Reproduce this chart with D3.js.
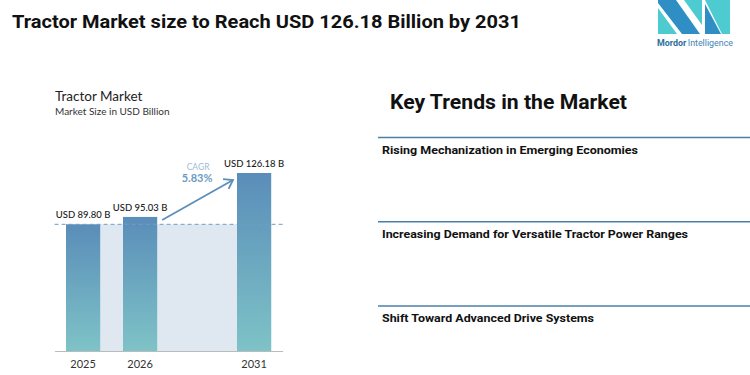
<!DOCTYPE html>
<html>
<head>
<meta charset="utf-8">
<script src="https://cdn.jsdelivr.net/npm/d3@7"></script>
<style>
  html, body { margin: 0; padding: 0; background: #fff; }
  svg { display: block; font-family: Lato, "Open Sans", sans-serif; }
</style>
</head>
<body>
<svg id="chart" width="750" height="375"></svg>
<script>
// data
const years = ["2025", "2026", "2031"];
const values = [89.80, 95.03, 126.18];
const valueLabels = ["USD 89.80 B", "USD 95.03 B", "USD 126.18 B"];
const slots = ["2025", "2026", "gap", "2031"];   // empty slot between 2026 and 2031
const cagr = "5.83%";
const trends = [
    "Rising Mechanization in Emerging Economies",
    "Increasing Demand for Versatile Tractor Power Ranges",
    "Shift Toward Advanced Drive Systems"
];
const trendWidths = [256, 306, 212];

const svg = d3.select("#chart");

// header
svg.append("text")
    .attr("x", 12).attr("y", 28)
    .attr("font-family", "Roboto, sans-serif")
    .attr("font-weight", 700)
    .attr("font-size", 19)
    .attr("textLength", 509)
    .attr("lengthAdjust", "spacingAndGlyphs")
    .attr("fill", "#111")
    .text("Tractor Market size to Reach USD 126.18 Billion by 2031");

// logo
const logo = svg.append("g");
const logoShapes = [
    { c: "#2f8fc4", p: [[658, 0], [676, 0], [700, 34], [682, 34], [658, 3]] },
    { c: "#4ecbd1", p: [[658, 8], [677, 34], [658, 34]] },
    { c: "#4ecbd1", p: [[684, 0], [702, 0], [702, 25]] },
    { c: "#4ecbd1", p: [[705, 0], [730, 0], [730, 34], [722, 34]] },
    { c: "#2f8fc4", p: [[705, 4], [721, 34], [705, 34]] }
];
logo.selectAll("polygon")
    .data(logoShapes)
    .enter().append("polygon")
    .attr("points", d => d.p.map(q => q.join(",")).join(" "))
    .attr("fill", d => d.c);
const logoText = logo.append("text")
    .attr("x", 695).attr("y", 46)
    .attr("text-anchor", "middle")
    .attr("font-family", "Roboto, sans-serif")
    .attr("font-size", 8.5)
    .attr("textLength", 76)
    .attr("lengthAdjust", "spacingAndGlyphs");
logoText.append("tspan").attr("font-weight", 700).attr("fill", "#2b6e9c").text("Mordor");
logoText.append("tspan").attr("dx", 1.5).attr("fill", "#3f86b5").text("Intelligence");

// chart titles
svg.append("text")
    .attr("x", 55).attr("y", 101)
    .attr("font-size", 13.5)
    .attr("fill", "#222")
    .text("Tractor Market");
svg.append("text")
    .attr("x", 55).attr("y", 115)
    .attr("font-size", 10)
    .attr("fill", "#333")
    .text("Market Size in USD Billion");

// scales
const x = d3.scaleBand()
    .domain(slots)
    .range([54.6, 282.6])
    .paddingInner(0.4)
    .paddingOuter(0.2);

const y = d3.scaleLinear()
    .domain([0, d3.max(values)])
    .range([351, 173]);

const bars = years.map((yr, i) => ({ year: yr, value: values[i], label: valueLabels[i] }));

// gradient for bars
const defs = svg.append("defs");
const grad = defs.append("linearGradient")
    .attr("id", "barGrad")
    .attr("x1", 0).attr("y1", 0).attr("x2", 0).attr("y2", 1);
grad.append("stop").attr("offset", "0%").attr("stop-color", "#5a8db9");
grad.append("stop").attr("offset", "100%").attr("stop-color", "#7ec3c7");

// shaded band behind bars at base level
svg.append("rect")
    .attr("x", x(years[0]))
    .attr("y", y(values[0]))
    .attr("width", x(years[2]) + x.bandwidth() - x(years[0]))
    .attr("height", y(0) - y(values[0]))
    .attr("fill", "#dfe8f0");

// bars
svg.selectAll(".bar")
    .data(bars)
    .enter().append("rect")
    .attr("class", "bar")
    .attr("x", d => x(d.year))
    .attr("y", d => y(d.value))
    .attr("width", x.bandwidth())
    .attr("height", d => y(0) - y(d.value))
    .attr("fill", "url(#barGrad)");

// dashed reference line at first value
svg.append("line")
    .attr("x1", x.range()[0]).attr("x2", x.range()[1])
    .attr("y1", y(values[0])).attr("y2", y(values[0]))
    .attr("stroke", "#6f9ec4")
    .attr("stroke-width", 1)
    .attr("stroke-dasharray", "4,3");

// value labels
svg.selectAll(".val")
    .data(bars)
    .enter().append("text")
    .attr("class", "val")
    .attr("x", d => x(d.year) + x.bandwidth() / 2)
    .attr("y", d => y(d.value) - 6)
    .attr("text-anchor", "middle")
    .attr("font-size", 9.5)
    .attr("font-weight", 500)
    .attr("fill", "#1a1a1a")
    .text(d => d.label);

// x axis
const xAxis = svg.append("g")
    .attr("transform", `translate(0, ${y(0)})`)
    .call(d3.axisBottom(x).tickValues(years).tickSize(0).tickSizeOuter(0).tickPadding(9));
xAxis.select(".domain").attr("stroke", "#bbbbbb").attr("stroke-width", 1.2);
xAxis.selectAll("text")
    .attr("font-family", "Lato, sans-serif")
    .attr("font-size", 11)
    .attr("fill", "#333");

// CAGR arrow
const ax1 = x(years[1]) + x.bandwidth() + 5;
const ay1 = y(values[1]) + 3;
const ax2 = x(years[2]) - 4;
const ay2 = y(values[2]) + 7;
const ang = Math.atan2(ay2 - ay1, ax2 - ax1);
const head = 10;
svg.append("line")
    .attr("x1", ax1).attr("y1", ay1)
    .attr("x2", ax2).attr("y2", ay2)
    .attr("stroke", "#5b8fbb")
    .attr("stroke-width", 1.8);
svg.append("path")
    .attr("d", d3.line()([
        [ax2 - head * Math.cos(ang - 0.6), ay2 - head * Math.sin(ang - 0.6)],
        [ax2, ay2],
        [ax2 - head * Math.cos(ang + 0.6), ay2 - head * Math.sin(ang + 0.6)]
    ]))
    .attr("fill", "none")
    .attr("stroke", "#5b8fbb")
    .attr("stroke-width", 1.8);

const cagrX = (x(years[1]) + x(years[2]) + x.bandwidth()) / 2 + 1;
svg.append("text")
    .attr("x", cagrX).attr("y", 170)
    .attr("text-anchor", "middle")
    .attr("font-size", 8.5)
    .attr("fill", "#9fbbd6")
    .text("CAGR");
svg.append("text")
    .attr("x", cagrX - 1).attr("y", 182)
    .attr("text-anchor", "middle")
    .attr("font-size", 11)
    .attr("font-weight", 700)
    .attr("fill", "#6c9bc5")
    .text(cagr);

// key trends panel
svg.append("text")
    .attr("x", 390).attr("y", 109)
    .attr("font-family", "Roboto, sans-serif")
    .attr("font-weight", 700)
    .attr("font-size", 19.5)
    .attr("textLength", 237)
    .attr("lengthAdjust", "spacingAndGlyphs")
    .attr("fill", "#111")
    .text("Key Trends in the Market");

const ty = d3.scaleLinear().domain([0, trends.length - 1]).range([137.5, 306]);

const rows = svg.selectAll(".trend")
    .data(trends)
    .enter().append("g")
    .attr("class", "trend")
    .attr("transform", (d, i) => `translate(0, ${ty(i)})`);

rows.append("line")
    .attr("x1", 378).attr("x2", 750)
    .attr("stroke", "#4a7fa8")
    .attr("stroke-width", 1.5);

rows.append("text")
    .attr("x", 382).attr("y", 16)
    .attr("font-family", "Roboto, sans-serif")
    .attr("font-weight", 700)
    .attr("font-size", 11)
    .attr("textLength", (d, i) => trendWidths[i])
    .attr("lengthAdjust", "spacingAndGlyphs")
    .attr("fill", "#111")
    .text(d => d);
</script>
</body>
</html>
